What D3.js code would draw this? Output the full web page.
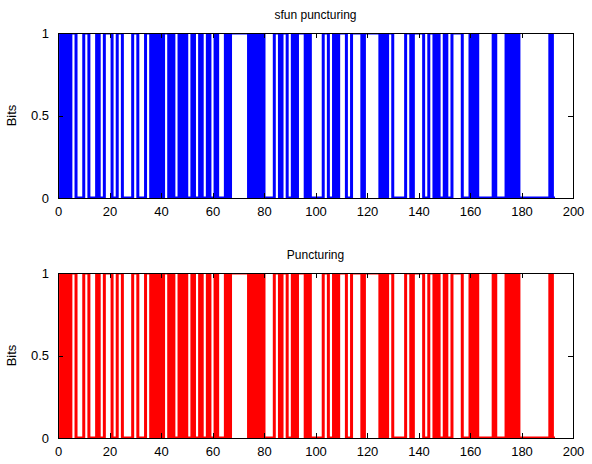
<!DOCTYPE html>
<html><head><meta charset="utf-8">
<script src="https://cdn.jsdelivr.net/npm/d3@7"></script>
<style>body{margin:0;background:#fff}svg{display:block}text{font-family:"Liberation Sans",Arial,sans-serif;fill:#000}</style>
</head><body>
<script>
const titles = ["sfun puncturing", "Puncturing"];
const colors = ["#0000ff", "#ff0000"];
const yLabel = "Bits";
const xTicks = [0, 20, 40, 60, 80, 100, 120, 140, 160, 180, 200];
const yTicks = [0, 0.5, 1];
const yTickLabels = ["0", "0.5", "1"];
const sfunBits = [
0,1,0,1,0,1,1,0,0,0, 1,1,0,0,0,1,0,0,1,1, 1,0,0,1,1,0,0,0,0,1, 1,0,0,0,1,1,0,1,0,1,
0,1,1,0,1,0,0,1,0,1, 0,0,1,0,0,1,0,0,1,0, 0,1,0,0,0,1,0,1,1,1, 1,1,1,1,0,1,0,1,0,1,
0,0,0,0,1,1,0,1,1,0, 0,1,0,1,1,1,0,1,0,0, 0,0,0,1,1,0,0,1,0,1, 1,1,0,0,1,1,1,1,0,1,
1,1,1,1,1,0,1,0,1,1, 0,0,0,0,0,1,1,0,1,1, 1,1,0,0,1,1,0,1,0,0, 1,0,0,1,1,1,1,0,0,0,
1,0,1,0,0,0,0,0,0,1, 0,0,0,0,1,0,1,0,1,0, 0,0,0,0,0,0,0,0,0,0, 0,1,0];
const puncBits = [
0,1,0,1,0,1,1,0,0,0, 1,1,0,0,0,1,0,0,1,1, 1,0,0,1,1,0,0,0,0,1, 1,0,0,0,1,1,0,1,0,1,
0,1,1,0,1,0,0,1,0,1, 0,0,1,0,0,1,0,0,1,0, 0,1,0,0,0,1,0,1,1,1, 1,1,1,1,0,1,0,1,0,1,
0,0,0,0,1,1,0,1,1,0, 0,1,0,1,1,1,0,1,0,0, 0,0,0,1,1,0,0,1,0,1, 1,1,0,0,1,1,1,1,0,1,
1,1,1,1,1,0,1,0,1,1, 0,0,0,0,0,1,1,0,1,1, 1,1,0,0,1,1,0,1,0,0, 1,0,0,1,1,1,1,0,0,0,
1,0,1,0,0,0,0,0,0,1, 0,0,0,0,1,0,1,0,1,0, 0,0,0,0,0,0,0,0,0,0, 0,1,0];
const series = [sfunBits, puncBits];

const W = 592, H = 464;
const svg = d3.select("body").append("svg").attr("width", W).attr("height", H);
const panels = [{top: 33, bottom: 198}, {top: 273, bottom: 438}];
const left = 58, right = 573;
const x = d3.scaleLinear().domain([0, 200]).range([left, right]);

panels.forEach((p, k) => {
  const y = d3.scaleLinear().domain([0, 1]).range([p.bottom, p.top]);
  const g = svg.append("g");
  const cid = "clip" + k;
  svg.append("clipPath").attr("id", cid).append("rect")
    .attr("x", left).attr("y", p.top).attr("width", right - left).attr("height", p.bottom - p.top);
  const bits = series[k];
  const pts = bits.map((b, i) => [i, b]);
  pts.push([bits.length, bits[bits.length - 1]]);
  const line = d3.line().x(d => x(d[0])).y(d => y(d[1])).curve(d3.curveStepAfter);
  g.append("path").attr("d", line(pts)).attr("fill", "none").attr("clip-path", `url(#${cid})`)
    .attr("stroke", colors[k]).attr("stroke-width", 3).attr("stroke-linejoin", "miter");

  g.append("rect").attr("x", left).attr("y", p.top).attr("width", right - left)
    .attr("height", p.bottom - p.top).attr("fill", "none").attr("stroke", "#000").attr("stroke-width", 1)
    .attr("shape-rendering", "crispEdges");

  const xb = g.append("g").attr("transform", `translate(0,${p.bottom})`)
    .call(d3.axisBottom(x).tickValues(xTicks).tickSizeInner(-5).tickSizeOuter(0).tickPadding(9));
  const xt = g.append("g").attr("transform", `translate(0,${p.top})`)
    .call(d3.axisTop(x).tickValues(xTicks).tickSizeInner(-5).tickSizeOuter(0).tickFormat(""));
  const yl = g.append("g").attr("transform", `translate(${left},0)`)
    .call(d3.axisLeft(y).tickValues(yTicks).tickFormat((d, i) => yTickLabels[i]).tickSizeInner(-5).tickSizeOuter(0).tickPadding(9));
  const yr = g.append("g").attr("transform", `translate(${right},0)`)
    .call(d3.axisRight(y).tickValues(yTicks).tickSizeInner(-5).tickSizeOuter(0).tickFormat(""));
  [xb, xt, yl, yr].forEach(a => {
    a.select(".domain").remove();
    a.selectAll("line").attr("stroke", "#000").attr("shape-rendering", "crispEdges");
    a.selectAll("text").attr("font-size", 13).attr("font-family", "'Liberation Sans', Arial, sans-serif").attr("fill", "#000");
  });

  svg.append("text").attr("x", (left + right) / 2).attr("y", p.top - 14)
    .attr("text-anchor", "middle").attr("font-size", 12).text(titles[k]);
  svg.append("text").attr("transform", `translate(16,${(p.top + p.bottom) / 2}) rotate(-90)`)
    .attr("text-anchor", "middle").attr("font-size", 13).text(yLabel);
});
</script>
</body></html>
